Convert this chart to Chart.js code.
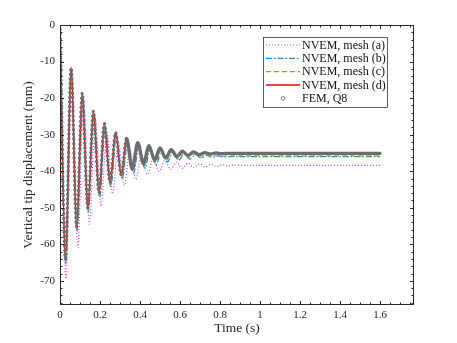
<!DOCTYPE html>
<html><head><meta charset="utf-8">
<script src="https://cdn.jsdelivr.net/npm/chart.js@4/dist/chart.umd.min.js"></script>
<style>html,body{margin:0;padding:0;background:#fff}#wrap{width:457px;height:343px}</style>
</head><body><div id="wrap"><canvas id="c" width="457" height="343"></canvas></div>
<script>
// ---- data ----
const seriesNames = ['NVEM, mesh (a)', 'NVEM, mesh (b)', 'NVEM, mesh (c)', 'NVEM, mesh (d)', 'FEM, Q8'];
const xTickValues = [0, 0.2, 0.4, 0.6, 0.8, 1, 1.2, 1.4, 1.6];
const yTickValues = [0, -10, -20, -30, -40, -50, -60, -70];
const xTitle = 'Time (s)';
const yTitle = 'Vertical tip displacement (mm)';

const timeA = [0, 0.030, 0.059, 0.089, 0.118, 0.147, 0.176, 0.205, 0.234, 0.263, 0.292, 0.321, 0.350, 0.379, 0.408, 0.437, 0.466, 0.495, 0.524, 0.553, 0.582, 0.611, 0.640, 0.669, 0.698, 0.727, 0.756, 0.785, 0.814, 0.843, 0.872, 0.92, 1.0, 1.2, 1.4, 1.6];
const dispA = [0, -69.5, -12.6, -60.9, -19.9, -54.5, -25.3, -49.5, -29.4, -46.2, -32.2, -43.9, -34.1, -42.3, -35.4, -40.9, -36.4, -40.0, -37.1, -39.5, -37.5, -39.2, -37.8, -39.0, -38.0, -38.8, -38.1, -38.7, -38.2, -38.6, -38.3, -38.4, -38.4, -38.4, -38.4, -38.4];

const timeB = [0, 0.0282, 0.0565, 0.0847, 0.113, 0.141, 0.169, 0.198, 0.226, 0.254, 0.282, 0.311, 0.339, 0.367, 0.395, 0.424, 0.452, 0.480, 0.508, 0.537, 0.565, 0.593, 0.621, 0.650, 0.678, 0.706, 0.734, 0.763, 0.791, 0.819, 0.86, 0.9, 1.0, 1.2, 1.4, 1.6];
const dispB = [0, -65.5, -12.0, -56.5, -19.2, -51.2, -24.2, -47.1, -27.7, -44.3, -30.2, -42.2, -31.9, -40.6, -33.1, -39.2, -33.9, -38.2, -34.5, -37.5, -34.9, -37.0, -35.3, -36.7, -35.5, -36.4, -35.7, -36.2, -35.8, -36.1, -36.0, -36.0, -36.0, -36.0, -36.0, -36.0];

const timeC = [0, 0.028, 0.056, 0.084, 0.112, 0.140, 0.168, 0.196, 0.224, 0.252, 0.280, 0.308, 0.336, 0.364, 0.392, 0.420, 0.448, 0.476, 0.504, 0.532, 0.560, 0.588, 0.616, 0.644, 0.672, 0.700, 0.728, 0.756, 0.784, 0.812, 0.85, 0.9, 1.0, 1.2, 1.4, 1.6];
const dispC = [0, -64.8, -11.8, -55.9, -19.0, -50.7, -24.0, -46.6, -27.5, -43.8, -29.9, -41.7, -31.6, -40.1, -32.8, -38.7, -33.6, -37.8, -34.2, -37.1, -34.7, -36.7, -35.1, -36.4, -35.3, -36.2, -35.5, -36.0, -35.6, -35.9, -35.8, -35.8, -35.8, -35.8, -35.8, -35.8];

const timeD = [0, 0.0275, 0.0555, 0.083, 0.111, 0.139, 0.167, 0.195, 0.222, 0.25, 0.278, 0.306, 0.333, 0.361, 0.389, 0.417, 0.445, 0.473, 0.5, 0.528, 0.556, 0.584, 0.612, 0.64, 0.668, 0.696, 0.724, 0.752, 0.78, 0.808, 0.85, 0.9, 1.0, 1.2, 1.4, 1.6];
const dispD = [0, -64.3, -11.5, -55.4, -18.6, -50.2, -23.5, -46.0, -26.9, -43.2, -29.3, -41.1, -30.9, -39.5, -32.1, -38.0, -32.9, -37.1, -33.5, -36.5, -34.0, -36.1, -34.4, -35.8, -34.6, -35.6, -34.8, -35.4, -34.9, -35.3, -35.2, -35.2, -35.2, -35.2, -35.2, -35.2];

const timeFEM = [0, 0.0275, 0.0555, 0.083, 0.111, 0.139, 0.167, 0.195, 0.222, 0.25, 0.278, 0.306, 0.333, 0.361, 0.389, 0.417, 0.445, 0.473, 0.5, 0.528, 0.556, 0.584, 0.612, 0.64, 0.668, 0.696, 0.724, 0.752, 0.78, 0.808, 0.85, 0.9, 1.0, 1.2, 1.4, 1.6];
const dispFEM = [0, -64.0, -11.7, -55.2, -18.7, -50.0, -23.6, -45.9, -27.0, -43.1, -29.4, -41.0, -31.0, -39.4, -32.2, -37.9, -33.0, -37.0, -33.6, -36.4, -34.1, -36.0, -34.5, -35.7, -34.7, -35.5, -34.9, -35.3, -35.0, -35.2, -35.1, -35.1, -35.1, -35.1, -35.1, -35.1];

const pts = (t, v) => t.map((x, i) => ({ x, y: v[i] }));
const SERIF = '"Liberation Serif", "DejaVu Serif", serif';
const AX = '#262626';

const styles = [
  { color: '#e53be5', dash: [1, 2], width: 1.2 },
  { color: '#1f86d4', dash: [6, 2, 1.5, 2], width: 1.2 },
  { color: '#77b533', dash: [5, 3], width: 1.2 },
  { color: '#ff0000', dash: [], width: 1.4 },
  { color: '#6c6c6c', dash: [], width: 3.3, marker: true }
];
const allPts = [pts(timeA, dispA), pts(timeB, dispB), pts(timeC, dispC), pts(timeD, dispD), pts(timeFEM, dispFEM)];

const datasets = allPts.map((d, i) => {
  const ds = {
    label: seriesNames[i],
    data: d,
    borderColor: styles[i].color,
    backgroundColor: styles[i].color,
    borderWidth: styles[i].width,
    borderDash: styles[i].dash,
    pointRadius: 0,
    cubicInterpolationMode: 'monotone',
    fill: false,
    order: 5 - i
  };
  if (styles[i].marker) {
    // marker-like beads on the steep swings, solid band where the swings are small
    ds.borderCapStyle = 'round';
    ds.segment = {
      borderDash: c => Math.abs(c.p0.parsed.y - c.p1.parsed.y) > 9 ? [0, 4.6] : undefined
    };
  }
  return ds;
});

const frame = {
  id: 'frame',
  afterDatasetsDraw(chart) {
    const { ctx, chartArea: a, scales: { x, y } } = chart;
    ctx.save();
    ctx.strokeStyle = AX; ctx.lineWidth = 1;
    const L = Math.round(a.left) + 0.5, R = Math.round(a.right) - 0.5;
    const T = Math.round(a.top) + 0.5, B = Math.round(a.bottom) - 0.5;
    ctx.beginPath();
    for (let k = 0; k <= 35; k++) {
      const px = Math.round(x.getPixelForValue(k * 0.05)) + 0.5;
      if (px > R) break;
      const len = k % 4 === 0 ? 3.5 : 2;
      ctx.moveTo(px, B); ctx.lineTo(px, B - len);
      ctx.moveTo(px, T); ctx.lineTo(px, T + len);
    }
    for (let k = 0; k <= 38; k++) {
      const py = Math.round(y.getPixelForValue(-2 * k)) + 0.5;
      if (py > B) break;
      const len = k % 5 === 0 ? 3.5 : 2;
      ctx.moveTo(L, py); ctx.lineTo(L + len, py);
      ctx.moveTo(R, py); ctx.lineTo(R - len, py);
    }
    ctx.stroke();
    ctx.strokeRect(L, T, R - L, B - T);
    ctx.restore();
  },
  afterDraw(chart) {
    const ctx = chart.ctx;
    const x0 = 263.5, y0 = 37.5, w = 124, h = 70;
    ctx.save();
    ctx.fillStyle = '#fff'; ctx.fillRect(x0, y0, w, h);
    ctx.strokeStyle = '#333'; ctx.lineWidth = 0.8; ctx.strokeRect(x0, y0, w, h);
    ctx.font = '12px ' + SERIF; ctx.textBaseline = 'middle'; ctx.textAlign = 'left';
    chart.data.datasets.forEach((ds, i) => {
      const cy = 45 + i * 13.33;
      const s = styles[i];
      if (s.marker) {
        ctx.beginPath(); ctx.arc(283, cy, 1.8, 0, Math.PI * 2);
        ctx.strokeStyle = '#6a6a6a'; ctx.lineWidth = 0.9; ctx.setLineDash([]); ctx.stroke();
      } else {
        ctx.beginPath(); ctx.moveTo(266, cy); ctx.lineTo(300, cy);
        ctx.strokeStyle = s.color; ctx.lineWidth = s.width; ctx.setLineDash(s.dash); ctx.stroke();
      }
      ctx.setLineDash([]);
      ctx.fillStyle = '#111';
      ctx.fillText(ds.label, 302, cy + 0.5);
    });
    ctx.restore();
  }
};

new Chart(document.getElementById('c'), {
  type: 'line',
  data: { datasets },
  options: {
    responsive: false, animation: false, devicePixelRatio: 1,
    layout: { padding: { left: 0, top: 25, right: 43, bottom: 0 } },
    plugins: { legend: { display: false }, tooltip: { enabled: false } },
    scales: {
      x: {
        type: 'linear', min: 0, max: 1.77,
        afterBuildTicks: s => { s.ticks = xTickValues.map(v => ({ value: v })); },
        afterFit: s => { s.height = 38; },
        grid: { display: false, drawTicks: false }, border: { display: false },
        ticks: { color: AX, font: { family: SERIF, size: 11 }, padding: 4, maxRotation: 0, autoSkip: false, callback: v => String(v) },
        title: { display: true, text: xTitle, color: AX, font: { family: SERIF, size: 13.5 }, padding: { top: 0, bottom: 6 } }
      },
      y: {
        type: 'linear', min: -76.6, max: 0,
        afterBuildTicks: s => { s.ticks = yTickValues.map(v => ({ value: v })); },
        afterFit: s => { s.width = 60; },
        grid: { display: false, drawTicks: false }, border: { display: false },
        ticks: { color: AX, font: { family: SERIF, size: 11 }, padding: 5, autoSkip: false, callback: v => String(v) },
        title: { display: true, text: yTitle, color: AX, font: { family: SERIF, size: 13.5 }, padding: { top: 20, bottom: 0 } }
      }
    }
  },
  plugins: [frame]
});
</script>
</body></html>
